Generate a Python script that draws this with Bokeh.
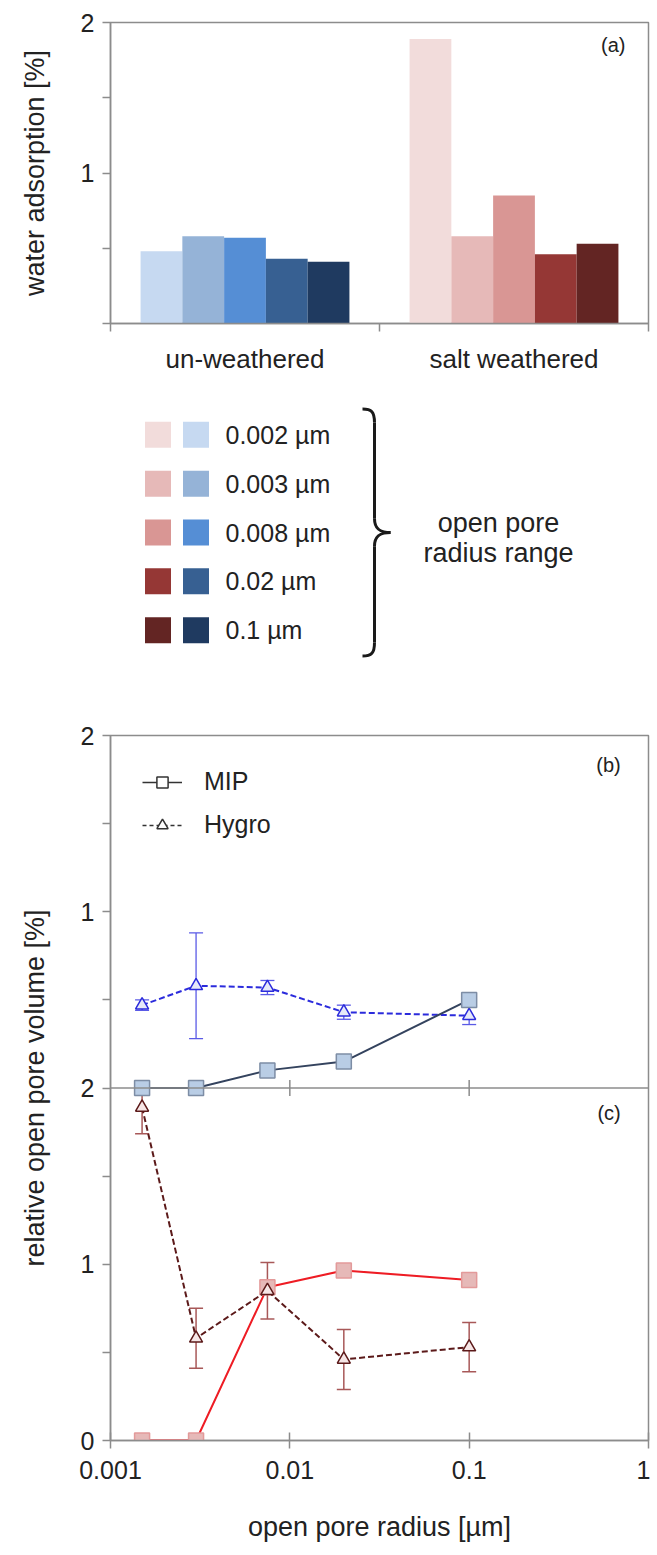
from bokeh.plotting import figure
from bokeh.models import (Range1d, LinearAxis, FixedTicker,
                          ColumnDataSource, Whisker, TeeHead, Label, Legend, LegendItem,
                          Span, NumeralTickFormatter, LinearScale)
from bokeh.layouts import column
from bokeh.core.properties import value
from bokeh.embed import file_html
from bokeh.resources import INLINE

# ---------------- data ----------------
groups = ["un-weathered", "salt weathered"]
radius_labels = ["0.002 µm", "0.003 µm", "0.008 µm", "0.02 µm", "0.1 µm"]
water_unweathered = [0.48, 0.58, 0.57, 0.43, 0.41]
water_salt = [1.89, 0.58, 0.85, 0.46, 0.53]
blue_colors = ["#c6d9f1", "#95b3d7", "#558ed5", "#376092", "#1f3a60"]
red_colors = ["#f2dcdb", "#e6b9b8", "#d99694", "#953735", "#632523"]

radius_um = [0.0015, 0.003, 0.0075, 0.02, 0.1]
mip_unweathered = [0.0, 0.0, 0.10, 0.15, 0.50]
hygro_unweathered = [0.47, 0.58, 0.57, 0.43, 0.41]
hygro_err_unweathered = [0.03, 0.30, 0.04, 0.04, 0.05]
mip_salt = [0.0, 0.0, 0.87, 0.965, 0.91]
hygro_salt = [1.89, 0.58, 0.85, 0.46, 0.53]
hygro_err_salt = [0.15, 0.17, 0.16, 0.17, 0.14]

FONT = "Liberation Sans"
TXT = "#222222"
AX = "#8c8c8c"
W = 650
BL, BR = 110, 2


def style_axis(ax, label_size="25px"):
    ax.major_label_text_font = FONT
    ax.major_label_text_font_size = label_size
    ax.major_label_text_color = TXT
    ax.axis_line_color = AX
    ax.major_tick_line_color = AX
    ax.minor_tick_line_color = AX
    ax.axis_line_width = 1.5
    ax.major_tick_line_width = 1.5
    ax.minor_tick_line_width = 1.5
    ax.axis_label_text_font = FONT
    ax.axis_label_text_font_style = "normal"
    ax.axis_label_text_color = TXT


# ---------------- panel (a) ----------------
n = len(radius_labels)
GAP, PAD = 1.44, 0.72
group_step = n + GAP
bar_x = [g * group_step + i for g in range(len(groups)) for i in range(n)]
group_centers = [g * group_step + (n - 1) / 2 for g in range(len(groups))]
x_lo = -0.5 - PAD
x_hi = (len(groups) - 1) * group_step + n - 0.5 + PAD
boundaries = [x_lo] + [g * group_step - 0.5 - GAP / 2 for g in range(1, len(groups))] + [x_hi]

bar_src = ColumnDataSource(dict(
    x=bar_x,
    top=water_unweathered + water_salt,
    color=blue_colors + red_colors,
))
pa = figure(width=W, height=385, x_range=Range1d(x_lo, x_hi),
            y_range=Range1d(0, 2), x_axis_location=None, output_backend="svg",
            toolbar_location=None, min_border_left=BL, min_border_right=BR,
            min_border_top=22, min_border_bottom=62)
pa.vbar(x="x", top="top", width=1.0, color="color", source=bar_src, line_color=None)
pa.grid.visible = False
pa.outline_line_color = AX
pa.outline_line_width = 1.5

tick_axis = LinearAxis(ticker=FixedTicker(ticks=[], minor_ticks=boundaries))
style_axis(tick_axis)
tick_axis.minor_tick_in = 0
tick_axis.minor_tick_out = 8
pa.add_layout(tick_axis, "below")
label_axis = LinearAxis(ticker=FixedTicker(ticks=group_centers),
                        major_label_overrides={c: g for c, g in zip(group_centers, groups)})
style_axis(label_axis, "26px")
label_axis.axis_line_color = None
label_axis.major_tick_line_color = None
label_axis.minor_tick_line_color = None
label_axis.major_label_standoff = 6
pa.add_layout(label_axis, "below")

ya = pa.yaxis[0]
style_axis(ya)
ya.ticker = FixedTicker(ticks=[1, 2], minor_ticks=[0, 0.5, 1.5])
ya.major_tick_in = 0
ya.major_tick_out = 8
ya.minor_tick_in = 0
ya.minor_tick_out = 8
ya.major_label_standoff = 8
ya.axis_label = "water adsorption [%]"
ya.axis_label_text_font_size = "27px"
ya.axis_label_standoff = 28
pa.add_layout(Label(x=x_hi - 0.55, y=1.85, text="(a)", text_align="right",
                    text_baseline="middle", text_font=FONT, text_font_size="20px",
                    text_color=TXT))

# ---------------- legend panel ----------------
pl = figure(width=W, height=315, x_range=Range1d(BL, W - BR), y_range=Range1d(4.6, -0.6),
            x_axis_location=None, y_axis_location=None, output_backend="svg",
            toolbar_location=None, min_border_left=BL, min_border_right=BR,
            min_border_top=20, min_border_bottom=41)
pl.grid.visible = False
pl.outline_line_color = None
rows = list(range(len(radius_labels)))
leg_src = ColumnDataSource(dict(row=rows, label=radius_labels, salt_col=red_colors,
                                unw_col=blue_colors))
pl.rect(x=157.5, y="row", width=26, height=26, width_units="screen", height_units="screen",
        fill_color="salt_col", line_color=None, source=leg_src)
pl.rect(x=195.5, y="row", width=26, height=26, width_units="screen", height_units="screen",
        fill_color="unw_col", line_color=None, source=leg_src)
pl.text(x=225, y="row", text="label", text_baseline="middle", text_font=value(FONT),
        text_font_size="25px", text_color=TXT, source=leg_src)
# curly brace
bx_end, bx_sp, bx_tip = 362, 374, 390
pl.bezier(x0=[bx_end, bx_sp, bx_tip, bx_sp], y0=[-0.53, 1.72, 2.0, 4.25],
          x1=[bx_sp, bx_tip, bx_sp, bx_end], y1=[-0.25, 2.0, 2.28, 4.53],
          cx0=[371, bx_sp, 381, bx_sp], cy0=[-0.53, 1.95, 2.0, 4.47],
          cx1=[bx_sp, 381, bx_sp, 371], cy1=[-0.47, 2.0, 2.05, 4.53],
          line_color="#1a1a1a", line_width=3)
pl.segment(x0=[bx_sp, bx_sp], y0=[-0.25, 2.28], x1=[bx_sp, bx_sp], y1=[1.72, 4.25],
           line_color="#1a1a1a", line_width=3)
pl.text(x=[498, 498], y=[1.8, 2.42], text=["open pore", "radius range"], text_align="center",
        text_baseline="middle", text_font=value(FONT), text_font_size="27px", text_color=TXT)

# ---------------- panels (b) and (c) ----------------
pb = figure(width=W, height=847, x_axis_type="log", x_range=Range1d(0.001, 1),
            y_range=Range1d(0, 4), output_backend="svg", toolbar_location=None,
            min_border_left=BL, min_border_right=BR, min_border_top=35, min_border_bottom=107)
pb.extra_y_ranges = {"b": Range1d(-2, 2)}
pb.extra_y_scales = {"b": LinearScale()}
pb.grid.visible = False
pb.outline_line_color = AX
pb.outline_line_width = 1.5

pb.add_layout(Span(location=2, dimension="width", line_color=AX, line_width=1.5))
pb.segment(x0=[0.01, 0.1], x1=[0.01, 0.1], y0=[1.955, 1.955], y1=[2.045, 2.045],
           line_color=AX, line_width=1.5)

# (b) un-weathered
src_hb = ColumnDataSource(dict(x=radius_um, y=hygro_unweathered,
                               upper=[v + e for v, e in zip(hygro_unweathered, hygro_err_unweathered)],
                               lower=[v - e for v, e in zip(hygro_unweathered, hygro_err_unweathered)]))
src_mb = ColumnDataSource(dict(x=radius_um, y=mip_unweathered))
pb.add_layout(Whisker(source=src_hb, base="x", upper="upper", lower="lower", y_range_name="b",
                      line_color="#5a5ae6", line_width=1.3,
                      upper_head=TeeHead(size=14, line_color="#5a5ae6", line_width=1.3),
                      lower_head=TeeHead(size=14, line_color="#5a5ae6", line_width=1.3)))
pb.line("x", "y", source=src_hb, y_range_name="b", line_color="#2b2bdc", line_width=2,
        line_dash="6 3")
pb.scatter("x", "y", source=src_hb, y_range_name="b", marker="triangle", size=13,
           fill_color="#e6e9f8", line_color="#2b2bdc", line_width=1.5)
pb.line("x", "y", source=src_mb, y_range_name="b", line_color="#34435e", line_width=2)
pb.scatter("x", "y", source=src_mb, y_range_name="b", marker="square", size=15,
           fill_color="#b9cde5", line_color="#7d8da5", line_width=1.5)

# (c) salt weathered
src_hc = ColumnDataSource(dict(x=radius_um, y=hygro_salt,
                               upper=[v + e for v, e in zip(hygro_salt, hygro_err_salt)],
                               lower=[v - e for v, e in zip(hygro_salt, hygro_err_salt)]))
src_mc = ColumnDataSource(dict(x=radius_um, y=mip_salt))
pb.add_layout(Whisker(source=src_hc, base="x", upper="upper", lower="lower",
                      line_color="#a85858", line_width=1.5,
                      upper_head=TeeHead(size=14, line_color="#a85858", line_width=1.5),
                      lower_head=TeeHead(size=14, line_color="#a85858", line_width=1.5)))
pb.line("x", "y", source=src_mc, line_color="#ee1c24", line_width=2)
pb.scatter("x", "y", source=src_mc, marker="square", size=15,
           fill_color="#e6b9b8", line_color="#e39a9a", line_width=1.5)
pb.line("x", "y", source=src_hc, line_color="#5c1a1a", line_width=2, line_dash="6 3")
pb.scatter("x", "y", source=src_hc, marker="triangle", size=13,
           fill_color="#f6e6e6", line_color="#5c1a1a", line_width=1.5)

# legend (neutral swatches, renderers with no visible points)
nan = float("nan")
l1 = pb.line(x=[nan], y=[nan], line_color="#333333", line_width=1.5)
s1 = pb.scatter(x=[nan], y=[nan], marker="square", size=13, fill_color="white",
                line_color="#333333", line_width=1.5)
l2 = pb.line(x=[nan], y=[nan], line_color="#333333", line_width=1.5, line_dash="4 3")
s2 = pb.scatter(x=[nan], y=[nan], marker="triangle", size=12, fill_color="white",
                line_color="#333333", line_width=1.5)
leg = Legend(items=[LegendItem(label="MIP", renderers=[l1, s1]),
                    LegendItem(label="Hygro", renderers=[l2, s2])],
             location="top_left", margin=32, padding=4, spacing=14, glyph_width=40,
             glyph_height=28, label_standoff=22, border_line_color=None,
             background_fill_alpha=0, label_text_font=FONT, label_text_font_size="25px",
             label_text_color=TXT)
pb.add_layout(leg)

pb.add_layout(Label(x=0.70, y=1.83, y_range_name="b", text="(b)", text_align="right",
                    text_baseline="middle", text_font=FONT, text_font_size="20px",
                    text_color=TXT))
pb.add_layout(Label(x=0.70, y=1.86, text="(c)", text_align="right",
                    text_baseline="middle", text_font=FONT, text_font_size="20px",
                    text_color=TXT))

xb = pb.xaxis[0]
style_axis(xb)
xb.ticker = FixedTicker(ticks=[0.001, 0.01, 0.1, 1])
xb.formatter = NumeralTickFormatter(format="0.[000]")
xb.major_tick_in = 8
xb.major_tick_out = 8
xb.major_label_standoff = 12
xb.axis_label = "open pore radius [µm]"
xb.axis_label_text_font_size = "27px"
xb.axis_label_standoff = 30

yb = pb.yaxis[0]
style_axis(yb)
yb.ticker = FixedTicker(ticks=[0, 1, 2, 3, 4], minor_ticks=[0.5, 1.5, 2.5, 3.5])
yb.major_label_overrides = {0: "0", 1: "1", 2: "2", 3: "1", 4: "2"}
yb.major_tick_in = 0
yb.major_tick_out = 8
yb.minor_tick_in = 0
yb.minor_tick_out = 8
yb.major_label_standoff = 8
yb.axis_label = "relative open pore volume [%]"
yb.axis_label_text_font_size = "27px"
yb.axis_label_standoff = 28

layout = column(pa, pl, pb, spacing=0)
open("out.html", "w").write(file_html(layout, INLINE))
